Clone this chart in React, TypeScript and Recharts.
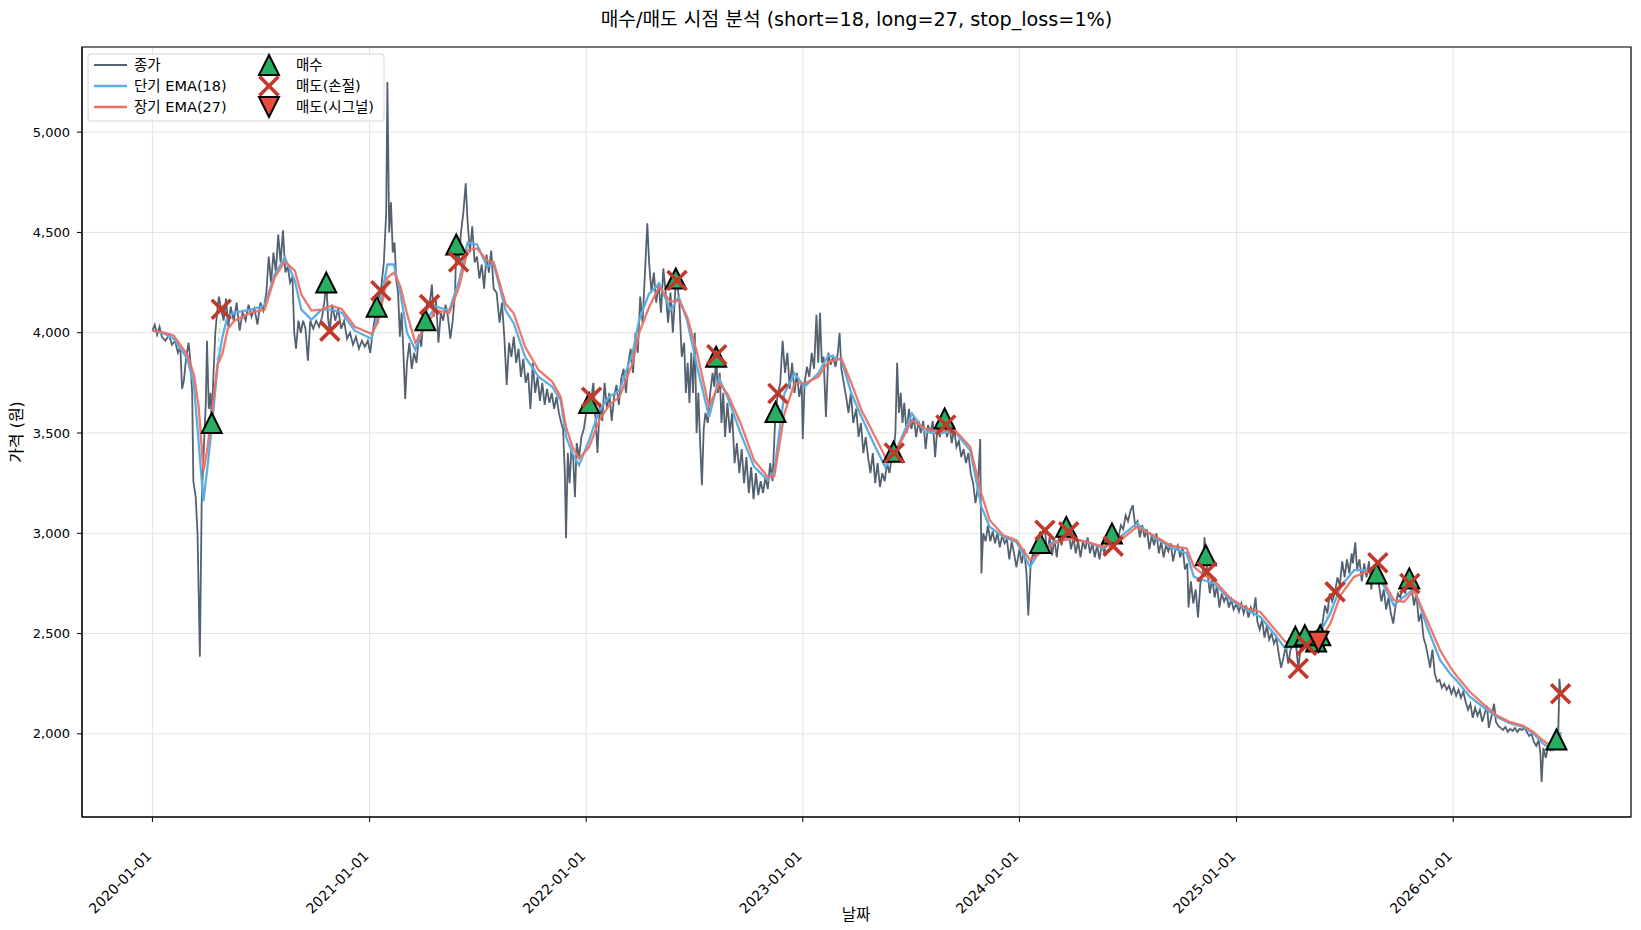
import React from 'react';
import {
  ComposedChart,
  Line,
  Scatter,
  XAxis,
  YAxis,
  CartesianGrid,
  ReferenceLine,
  ReferenceArea,
} from 'recharts';

// ---------------- data ----------------
const closeDates = [
  '2020-01-01','2020-01-05','2020-01-09','2020-01-13','2020-01-17','2020-01-23','2020-01-29','2020-02-03','2020-02-08','2020-02-13',
  '2020-02-17','2020-02-20','2020-02-23','2020-02-27','2020-03-02','2020-03-05','2020-03-08','2020-03-10','2020-03-14','2020-03-17',
  '2020-03-21','2020-03-24','2020-03-28','2020-03-31','2020-04-02','2020-04-05','2020-04-08','2020-04-10','2020-04-13','2020-04-16',
  '2020-04-19','2020-04-22','2020-04-26','2020-04-30','2020-05-04','2020-05-08','2020-05-12','2020-05-17','2020-05-22','2020-05-27',
  '2020-06-01','2020-06-06','2020-06-11','2020-06-16','2020-06-21','2020-06-26','2020-07-01','2020-07-06','2020-07-11','2020-07-15',
  '2020-07-19','2020-07-23','2020-07-27','2020-07-31','2020-08-04','2020-08-08','2020-08-12','2020-08-16','2020-08-20','2020-08-24',
  '2020-08-27','2020-08-30','2020-09-03','2020-09-07','2020-09-11','2020-09-15','2020-09-19','2020-09-23','2020-09-28','2020-10-03',
  '2020-10-08','2020-10-13','2020-10-17','2020-10-20','2020-10-23','2020-10-26','2020-10-30','2020-11-04','2020-11-09','2020-11-14',
  '2020-11-19','2020-11-24','2020-11-29','2020-12-04','2020-12-09','2020-12-14','2020-12-19','2020-12-24','2020-12-29',
  '2021-01-02','2021-01-07','2021-01-13','2021-01-17','2021-01-20','2021-01-25','2021-01-29','2021-01-31','2021-02-03','2021-02-06',
  '2021-02-09','2021-02-12','2021-02-15','2021-02-18','2021-02-21','2021-02-24','2021-02-27','2021-03-02','2021-03-05','2021-03-09',
  '2021-03-13','2021-03-17','2021-03-21','2021-03-25','2021-03-29','2021-04-02','2021-04-05','2021-04-08','2021-04-12','2021-04-16',
  '2021-04-19','2021-04-23','2021-04-27','2021-05-01','2021-05-05','2021-05-09','2021-05-13','2021-05-17','2021-05-21','2021-05-25',
  '2021-05-27','2021-05-31','2021-06-04','2021-06-08','2021-06-12','2021-06-15','2021-06-19','2021-06-23','2021-06-27','2021-07-01',
  '2021-07-05','2021-07-09','2021-07-13','2021-07-17','2021-07-21','2021-07-25','2021-07-29','2021-08-03','2021-08-08','2021-08-12',
  '2021-08-16','2021-08-20','2021-08-24','2021-08-28','2021-09-01','2021-09-05','2021-09-09','2021-09-13','2021-09-17','2021-09-21',
  '2021-09-25','2021-09-29','2021-10-03','2021-10-07','2021-10-11','2021-10-15','2021-10-19','2021-10-23','2021-10-27','2021-10-31',
  '2021-11-04','2021-11-08','2021-11-12','2021-11-16','2021-11-20','2021-11-23','2021-11-26','2021-11-28','2021-12-01','2021-12-04',
  '2021-12-07','2021-12-10','2021-12-13','2021-12-16','2021-12-20','2021-12-24','2021-12-28',
  '2022-01-01','2022-01-04','2022-01-06','2022-01-10','2022-01-13','2022-01-17','2022-01-20','2022-01-24','2022-01-28','2022-02-01',
  '2022-02-05','2022-02-09','2022-02-13','2022-02-17','2022-02-21','2022-02-25','2022-03-01','2022-03-05','2022-03-09','2022-03-13',
  '2022-03-17','2022-03-21','2022-03-25','2022-03-29','2022-04-02','2022-04-06','2022-04-10','2022-04-14','2022-04-17','2022-04-21',
  '2022-04-25','2022-04-29','2022-05-03','2022-05-07','2022-05-11','2022-05-15','2022-05-19','2022-05-23','2022-05-27','2022-05-30',
  '2022-06-01','2022-06-03','2022-06-07','2022-06-11','2022-06-15','2022-06-18','2022-06-21','2022-06-24','2022-06-27','2022-06-30',
  '2022-07-03','2022-07-06','2022-07-09','2022-07-12','2022-07-15','2022-07-18','2022-07-21','2022-07-25','2022-07-29','2022-08-02',
  '2022-08-05','2022-08-08','2022-08-11','2022-08-14','2022-08-17','2022-08-20','2022-08-23','2022-08-27','2022-08-31','2022-09-04',
  '2022-09-08','2022-09-12','2022-09-16','2022-09-20','2022-09-24','2022-09-28','2022-10-02','2022-10-06','2022-10-10','2022-10-14',
  '2022-10-18','2022-10-22','2022-10-26','2022-10-30','2022-11-03','2022-11-07','2022-11-11','2022-11-16','2022-11-20','2022-11-24',
  '2022-11-28','2022-12-02','2022-12-06','2022-12-10','2022-12-14','2022-12-18','2022-12-22','2022-12-26','2022-12-30',
  '2023-01-01','2023-01-04','2023-01-08','2023-01-12','2023-01-16','2023-01-20','2023-01-24','2023-01-27','2023-01-30','2023-02-02',
  '2023-02-05','2023-02-09','2023-02-13','2023-02-17','2023-02-21','2023-02-25','2023-03-01','2023-03-04','2023-03-07','2023-03-11',
  '2023-03-15','2023-03-19','2023-03-23','2023-03-27','2023-04-01','2023-04-05','2023-04-09','2023-04-13','2023-04-17','2023-04-21',
  '2023-04-25','2023-04-29','2023-05-03','2023-05-07','2023-05-11','2023-05-15','2023-05-19','2023-05-23','2023-05-27','2023-05-31',
  '2023-06-03','2023-06-06','2023-06-09','2023-06-12','2023-06-15','2023-06-18','2023-06-21','2023-06-25','2023-06-29','2023-07-03',
  '2023-07-07','2023-07-11','2023-07-15','2023-07-19','2023-07-23','2023-07-27','2023-07-31','2023-08-04','2023-08-08','2023-08-12',
  '2023-08-16','2023-08-20','2023-08-24','2023-08-28','2023-09-01','2023-09-05','2023-09-09','2023-09-13','2023-09-17','2023-09-21',
  '2023-09-25','2023-09-29','2023-10-03','2023-10-07','2023-10-11','2023-10-15','2023-10-19','2023-10-23','2023-10-27','2023-10-29',
  '2023-11-01','2023-11-05','2023-11-09','2023-11-13','2023-11-17','2023-11-21','2023-11-25','2023-11-29','2023-12-03','2023-12-07',
  '2023-12-11','2023-12-15','2023-12-19','2023-12-23','2023-12-27',
  '2024-01-01','2024-01-05','2024-01-09','2024-01-13','2024-01-16','2024-01-20','2024-01-24','2024-01-28','2024-02-01','2024-02-05',
  '2024-02-09','2024-02-13','2024-02-17','2024-02-21','2024-02-25','2024-02-29','2024-03-04','2024-03-08','2024-03-12','2024-03-16',
  '2024-03-20','2024-03-24','2024-03-28','2024-04-01','2024-04-05','2024-04-09','2024-04-13','2024-04-17','2024-04-21','2024-04-25',
  '2024-04-29','2024-05-03','2024-05-07','2024-05-11','2024-05-15','2024-05-19','2024-05-23','2024-05-27','2024-05-31','2024-06-05',
  '2024-06-08','2024-06-12','2024-06-16','2024-06-20','2024-06-24','2024-06-28','2024-07-02','2024-07-06','2024-07-10','2024-07-14',
  '2024-07-18','2024-07-22','2024-07-26','2024-07-30','2024-08-03','2024-08-07','2024-08-11','2024-08-15','2024-08-19','2024-08-23',
  '2024-08-27','2024-08-31','2024-09-04','2024-09-08','2024-09-12','2024-09-16','2024-09-20','2024-09-24','2024-09-28','2024-10-02',
  '2024-10-06','2024-10-10','2024-10-12','2024-10-16','2024-10-20','2024-10-24','2024-10-28','2024-11-01','2024-11-05','2024-11-08',
  '2024-11-10','2024-11-13','2024-11-17','2024-11-21','2024-11-25','2024-11-29','2024-12-03','2024-12-07','2024-12-11','2024-12-15',
  '2024-12-19','2024-12-23','2024-12-27',
  '2025-01-01','2025-01-05','2025-01-09','2025-01-13','2025-01-17','2025-01-21','2025-01-25','2025-01-29','2025-02-02','2025-02-05',
  '2025-02-09','2025-02-13','2025-02-17','2025-02-21','2025-02-25','2025-03-01','2025-03-05','2025-03-09','2025-03-13','2025-03-17',
  '2025-03-21','2025-03-25','2025-03-29','2025-04-02','2025-04-06','2025-04-10','2025-04-15','2025-04-19','2025-04-26','2025-04-29',
  '2025-05-03','2025-05-07','2025-05-11','2025-05-15','2025-05-19','2025-05-22','2025-05-26','2025-05-30','2025-06-03','2025-06-07',
  '2025-06-11','2025-06-16','2025-06-20','2025-06-24','2025-06-28','2025-07-02','2025-07-06','2025-07-10','2025-07-14','2025-07-16',
  '2025-07-20','2025-07-23','2025-07-27','2025-07-31','2025-08-04','2025-08-08','2025-08-12','2025-08-16','2025-08-20','2025-08-25',
  '2025-08-29','2025-09-02','2025-09-06','2025-09-10','2025-09-14','2025-09-18','2025-09-22','2025-09-26','2025-09-30','2025-10-04',
  '2025-10-08','2025-10-12','2025-10-16','2025-10-19','2025-10-23','2025-10-27','2025-10-31','2025-11-04','2025-11-08','2025-11-12',
  '2025-11-16','2025-11-20','2025-11-23','2025-11-27','2025-12-01','2025-12-05','2025-12-09','2025-12-13','2025-12-17','2025-12-21',
  '2025-12-25','2025-12-29',
  '2026-01-02','2026-01-06','2026-01-10','2026-01-14','2026-01-18','2026-01-22','2026-01-26','2026-01-30','2026-02-03','2026-02-07',
  '2026-02-11','2026-02-15','2026-02-19','2026-02-23','2026-02-27','2026-03-02','2026-03-06','2026-03-11','2026-03-14','2026-03-18',
  '2026-03-22','2026-03-26','2026-03-30','2026-04-03','2026-04-07','2026-04-11','2026-04-15','2026-04-19','2026-04-23','2026-04-27',
  '2026-05-01','2026-05-05','2026-05-09','2026-05-13','2026-05-17','2026-05-21','2026-05-25','2026-05-28','2026-05-30','2026-06-02',
  '2026-06-06','2026-06-10','2026-06-14','2026-06-18','2026-06-21','2026-06-24','2026-06-27','2026-06-29','2026-07-01',
];

const closePrices = [
  4010,4040,3990,4030,3980,3960,3990,3940,3960,3900,
  3930,3720,3760,3880,3950,3860,3700,3260,3180,3000,
  2385,3150,3450,3650,3960,3620,3700,3550,3800,4000,
  4100,4180,4117,4060,4170,4030,4130,4060,4150,4010,
  4100,4060,4140,4080,4120,4040,4150,4110,4200,4380,
  4250,4400,4300,4490,4350,4510,4300,4330,4250,4280,
  4000,3920,4060,4000,4060,4020,3860,4060,4020,4060,
  4030,4080,4160,4250,4070,4008,4140,4060,4120,4020,
  4060,3970,4000,3940,3980,3920,3960,3930,3960,
  3900,4020,4130,4180,4209,4350,4600,5250,4500,4650,
  4400,4450,4260,4200,3980,4100,3900,3670,3850,3950,
  3820,3900,3850,3990,3930,4080,4062,4150,4140,4240,
  4080,4160,3950,4100,4060,4140,4080,3970,4060,4200,
  4440,4353,4500,4600,4745,4560,4400,4530,4350,4380,
  4270,4340,4220,4390,4300,4410,4220,4200,4050,4150,
  3980,3740,3950,3880,3980,3850,3920,3780,3870,3750,
  3800,3620,3850,3700,3780,3660,3750,3640,3720,3650,
  3700,3620,3680,3600,3550,3520,3300,2975,3400,3250,
  3420,3380,3180,3450,3380,3480,3520,
  3600,3700,3650,3678,3750,3560,3400,3650,3560,3750,
  3620,3700,3560,3680,3740,3640,3770,3820,3700,3850,
  3920,3800,4000,3900,4180,4050,4300,4546,4350,4200,
  4300,4150,4250,4100,4320,4200,4050,4200,4000,4150,
  4270,4260,4150,3880,3950,3700,3850,3650,3900,3700,
  4000,3500,3700,3450,3240,3520,3600,3550,3700,3800,
  3730,3880,3700,3800,3550,3700,3480,3650,3500,3600,
  3350,3450,3300,3420,3250,3380,3200,3330,3170,3300,
  3190,3260,3200,3280,3220,3350,3260,3605,3697,3750,
  3960,3800,3900,3720,3850,3700,3800,3680,3750,
  3470,3750,3830,3780,3900,3820,4090,3850,4100,3850,
  3880,3580,3900,3840,3880,3830,3900,4000,3820,3750,
  3680,3600,3700,3550,3620,3480,3550,3400,3480,3380,
  3300,3400,3250,3350,3230,3300,3260,3350,3300,3380,
  3406,3500,3850,3600,3700,3550,3650,3500,3620,3520,
  3580,3480,3560,3500,3560,3420,3540,3500,3560,3380,
  3540,3480,3560,3572,3480,3540,3450,3520,3430,3460,
  3380,3420,3350,3400,3300,3250,3150,3230,3470,2800,
  3000,2960,3040,2960,3010,2950,3000,2930,2990,2950,
  2970,2870,2960,2900,2830,
  2920,2850,2920,2800,2590,2850,2900,2880,2940,2952,
  3000,3015,2900,2980,2890,2970,2880,2990,2940,3010,
  3032,3007,2920,2980,2900,2960,2880,2960,2920,2980,
  2900,2950,2880,2940,2870,2950,2900,2960,2940,2999,
  2960,3000,2980,3040,3020,3090,3060,3110,3140,3040,
  3060,2980,3040,2980,3020,2920,2990,2940,3000,2900,
  2960,2880,2940,2910,2950,2860,2920,2940,2880,2930,
  2820,2850,2630,2760,2650,2720,2580,2750,2800,2980,
  2891,2800,2700,2780,2680,2740,2630,2700,2660,2690,
  2630,2670,2620,
  2650,2610,2650,2600,2640,2580,2630,2600,2680,2560,
  2520,2570,2480,2540,2470,2500,2450,2480,2400,2330,
  2380,2440,2350,2420,2440,2484,2326,2430,2492,2442,
  2480,2440,2470,2460,2459,2492,2560,2640,2600,2700,
  2660,2708,2780,2740,2860,2780,2870,2800,2900,2850,
  2955,2820,2870,2760,2850,2780,2860,2720,2840,2800,
  2740,2660,2720,2620,2680,2600,2550,2640,2700,2680,
  2740,2700,2760,2775,2730,2640,2700,2560,2600,2480,
  2440,2380,2330,2420,2300,2260,2270,2230,2250,2220,
  2240,2200,
  2230,2190,2220,2180,2210,2160,2120,2150,2080,2130,
  2090,2120,2060,2100,2140,2030,2080,2150,2060,2040,
  2030,2020,2035,2010,2025,2015,2030,2010,2025,2020,
  2030,2010,1990,2000,1960,1940,1970,1900,1760,1930,
  1880,1940,1920,1950,1940,1972,1990,2275,2200,
];

const emaDates = [
  '2020-01-01','2020-01-21','2020-02-06','2020-02-29','2020-03-11','2020-03-19','2020-03-27','2020-04-02','2020-04-11','2020-04-20',
  '2020-04-28','2020-05-07','2020-05-18','2020-06-15','2020-07-08','2020-07-25','2020-08-11','2020-08-28','2020-09-08','2020-09-25',
  '2020-10-12','2020-10-29','2020-11-15','2020-12-07','2021-01-04','2021-01-15','2021-01-31','2021-02-11','2021-02-22','2021-03-05',
  '2021-03-19','2021-04-05','2021-04-23','2021-05-15','2021-06-01','2021-06-15','2021-07-01','2021-07-18','2021-07-29','2021-08-18',
  '2021-09-01','2021-09-20','2021-10-13','2021-11-05','2021-11-19','2021-11-28','2021-12-09','2021-12-20','2022-01-06','2022-01-23',
  '2022-02-09','2022-02-26','2022-03-20','2022-03-31','2022-04-17','2022-05-04','2022-05-23','2022-06-06','2022-06-20','2022-07-07',
  '2022-07-27','2022-08-13','2022-08-27','2022-09-18','2022-10-11','2022-11-03','2022-11-14','2022-12-01','2022-12-18','2023-01-04',
  '2023-01-27','2023-02-13','2023-03-07','2023-03-24','2023-04-10','2023-05-03','2023-05-20','2023-06-05','2023-07-04','2023-07-26',
  '2023-08-20','2023-09-12','2023-10-10','2023-10-29','2023-11-12','2023-12-05','2023-12-27','2024-01-19','2024-02-05','2024-02-28',
  '2024-03-27','2024-04-24','2024-05-22','2024-06-19','2024-07-17','2024-08-14','2024-09-11','2024-10-09','2024-10-21','2024-11-07',
  '2024-11-24','2024-12-22','2025-01-19','2025-02-10','2025-03-05','2025-03-24','2025-04-10','2025-04-30','2025-05-22','2025-06-08',
  '2025-06-25','2025-07-18','2025-08-09','2025-09-01','2025-09-23','2025-10-10','2025-10-27','2025-11-18','2025-12-10','2025-12-27',
  '2026-01-06','2026-01-29','2026-02-20','2026-03-15','2026-04-06','2026-04-29','2026-05-16','2026-06-01','2026-06-18','2026-06-29',
  '2026-07-01',
];

const emaShort = [
  4010,3995,3970,3870,3740,3450,3160,3310,3555,3845,
  3980,4085,4100,4115,4135,4290,4375,4260,4115,4065,
  4115,4115,4100,4010,3970,4085,4340,4340,4195,4000,
  3915,4060,4130,4110,4260,4450,4440,4330,4345,4113,
  4046,3880,3780,3730,3663,3481,3398,3340,3464,3614,
  3680,3713,3897,4062,4195,4245,4112,4178,4062,3830,
  3580,3772,3680,3500,3331,3265,3310,3697,3797,3730,
  3797,3888,3863,3697,3580,3431,3331,3398,3597,3505,
  3497,3514,3414,3132,3032,2982,2957,2833,2916,2957,
  2974,2957,2924,2982,3049,2982,2932,2900,2783,2766,
  2750,2667,2617,2583,2500,2426,2442,2467,2508,2600,
  2733,2816,2816,2766,2642,2683,2725,2533,2367,2300,
  2268,2185,2135,2085,2053,2035,2002,1952,1918,1960,
  2010,
];

const emaLong = [
  4010,4000,3985,3890,3790,3630,3310,3410,3620,3840,
  3895,4020,4060,4100,4115,4275,4355,4310,4190,4110,
  4115,4135,4118,4030,3995,4050,4275,4300,4230,4095,
  3950,4030,4113,4097,4230,4410,4420,4360,4353,4146,
  4096,3930,3813,3755,3680,3530,3430,3373,3430,3564,
  3640,3680,3847,3997,4128,4228,4154,4163,4080,3897,
  3630,3747,3697,3550,3364,3281,3285,3597,3747,3747,
  3780,3855,3872,3747,3613,3480,3381,3398,3564,3522,
  3505,3522,3431,3198,3065,2990,2965,2866,2900,2949,
  2974,2957,2932,2965,3032,2990,2940,2924,2833,2791,
  2766,2675,2625,2608,2525,2459,2442,2434,2467,2550,
  2691,2783,2808,2783,2667,2658,2717,2567,2417,2333,
  2292,2210,2151,2093,2060,2040,2010,1968,1935,1950,
  1965,
];

const buyDates = [
  '2020-04-10','2020-10-20','2021-01-13','2021-04-05','2021-05-27','2022-01-06','2022-06-01','2022-08-08',
  '2022-11-16','2023-06-03','2023-08-28','2024-02-05','2024-03-20','2024-06-05','2024-11-10','2025-04-10',
  '2025-04-26','2025-05-15','2025-05-22','2025-08-25','2025-10-19','2026-06-24',
];
const buyPrices = [
  3550,4250,4130,4062,4440,3650,4270,3880,
  3605,3406,3572,2952,3032,2999,2891,2484,
  2492,2460,2492,2800,2775,1972,
];

const stopDates = [
  '2020-04-26','2020-10-26','2021-01-20','2021-04-12','2021-05-31','2022-01-10','2022-06-03','2022-08-09',
  '2022-11-20','2023-06-04','2023-08-30','2024-02-13','2024-03-24','2024-06-07','2024-11-12','2025-04-15',
  '2025-04-29','2025-06-16','2025-08-27','2025-10-20','2026-07-01',
];
const stopPrices = [
  4117,4008,4209,4140,4353,3678,4260,3890,
  3697,3400,3540,3015,3007,2936,2808,2326,
  2442,2708,2853,2750,2200,
];

const signalDates = ['2025-05-19'];
const signalPrices = [2459];

const yearTicks = ['2020-01-01','2021-01-01','2022-01-01','2023-01-01','2024-01-01','2025-01-01','2026-01-01'];
const priceTicks = [2000, 2500, 3000, 3500, 4000, 4500, 5000];

// ---------------- helpers ----------------
const FONT = '"DejaVu Sans", "Noto Sans CJK KR", sans-serif';
const toT = (s: string) => Date.UTC(+s.slice(0, 4), +s.slice(5, 7) - 1, +s.slice(8, 10));
const fmtDate = (t: number) => new Date(t).toISOString().slice(0, 10);

const pairs = (dates: string[], vals: number[]) => dates.map((d, i) => ({ x: toT(d), y: vals[i] }));

const closeData = pairs(closeDates, closePrices);
const shortData = pairs(emaDates, emaShort);
const longData = pairs(emaDates, emaLong);
const buyData = pairs(buyDates, buyPrices);
const stopData = pairs(stopDates, stopPrices);
const signalData = pairs(signalDates, signalPrices);

// buy -> exit pairs for the dashed trade connectors
const exits = [...stopData, ...signalData].sort((a, b) => a.x - b.x);
const trades = buyData.map((b, i) => ({ from: b, to: exits[i] })).filter((t) => t.to);

const allX = closeData.map((p) => p.x);
const xLo = Math.min(...allX);
const xHi = Math.max(...allX);
const xPad = (xHi - xLo) * 0.05;
const xDomain: [number, number] = [xLo - xPad, xHi + xPad];

const yLo = Math.min(...closePrices);
const yHi = Math.max(...closePrices);
const yPad = (yHi - yLo) * 0.05;
const yDomain: [number, number] = [yLo - yPad, yHi + yPad];

// ---------------- colours ----------------
const C_CLOSE = '#536170';
const C_SHORT = '#5DADE2';
const C_LONG = '#EC7063';
const C_BUY = '#27AE60';
const C_STOP = '#C0392B';
const C_SIGNAL = '#E74C3C';

// ---------------- marker shapes ----------------
const M = 10;
const UpTri = ({ cx, cy }: any) => (
  <path d={`M${cx},${cy - M} L${cx + M},${cy + M} L${cx - M},${cy + M} Z`} fill={C_BUY} stroke="#000" strokeWidth={2} />
);
const DownTri = ({ cx, cy }: any) => (
  <path d={`M${cx},${cy + M} L${cx + M},${cy - M} L${cx - M},${cy - M} Z`} fill={C_SIGNAL} stroke="#000" strokeWidth={2} />
);
const Cross = ({ cx, cy }: any) => (
  <g stroke={C_STOP} strokeWidth={3.6}>
    <line x1={cx - 9.5} y1={cy - 9.5} x2={cx + 9.5} y2={cy + 9.5} />
    <line x1={cx - 9.5} y1={cy + 9.5} x2={cx + 9.5} y2={cy - 9.5} />
  </g>
);

const XTick = ({ x, y, payload }: any) => {
  const ax = x;
  const ay = y + 33;
  return (
    <text
      x={ax}
      y={ay}
      transform={`rotate(-45 ${ax} ${ay})`}
      textAnchor="end"
      fontSize={14}
      fontFamily={FONT}
      fill="#000"
    >
      {fmtDate(payload.value)}
    </text>
  );
};

const Legend = () => {
  const rows = [12, 33, 54];
  const textProps = { fontSize: 14.5, fontFamily: FONT, fill: '#000', dominantBaseline: 'central' as const };
  return (
    <svg width={298} height={69} style={{ position: 'absolute', left: 79, top: 45 }}>
      <rect x={1} y={1} width={296} height={67} rx={3} fill="#fff" fillOpacity={0.85} stroke="#d6d6d6" />
      <line x1={7} x2={40} y1={rows[0]} y2={rows[0]} stroke={C_CLOSE} strokeWidth={2} />
      <line x1={7} x2={40} y1={rows[1]} y2={rows[1]} stroke={C_SHORT} strokeWidth={2.5} />
      <line x1={7} x2={40} y1={rows[2]} y2={rows[2]} stroke={C_LONG} strokeWidth={2.5} />
      <text x={47} y={rows[0]} {...textProps}>종가</text>
      <text x={47} y={rows[1]} {...textProps}>단기 EMA(18)</text>
      <text x={47} y={rows[2]} {...textProps}>장기 EMA(27)</text>
      <UpTri cx={182} cy={rows[0]} />
      <Cross cx={182} cy={rows[1]} />
      <DownTri cx={182} cy={rows[2]} />
      <text x={209} y={rows[0]} {...textProps}>매수</text>
      <text x={209} y={rows[1]} {...textProps}>매도(손절)</text>
      <text x={209} y={rows[2]} {...textProps}>매도(시그널)</text>
    </svg>
  );
};

export default function App() {
  const W = 1633;
  const H = 922;
  return (
    <div style={{ position: 'relative', width: W, height: H, fontFamily: FONT }}>
      <ComposedChart width={W} height={H} margin={{ top: 39, right: 10, bottom: 0, left: 0 }}>
        <CartesianGrid stroke="#e3e3e3" strokeWidth={1} />
        <XAxis
          dataKey="x"
          type="number"
          domain={xDomain}
          allowDataOverflow
          ticks={yearTicks.map(toT)}
          interval={0}
          tick={<XTick />}
          tickSize={5}
          height={113}
          stroke="#000"
        />
        <YAxis
          dataKey="y"
          type="number"
          domain={yDomain}
          allowDataOverflow
          ticks={priceTicks}
          interval={0}
          tickFormatter={(v: number) => v.toLocaleString('en-US')}
          tick={{ fontSize: 13, fontFamily: FONT, fill: '#000' }}
          tickSize={5}
          tickMargin={7}
          width={74}
          stroke="#000"
        />
        {trades.map((t, i) => (
          <ReferenceLine
            key={`trade-${i}`}
            segment={[t.from, t.to]}
            stroke={t.to.y >= t.from.y ? C_BUY : C_STOP}
            strokeOpacity={0.35}
            strokeDasharray="5 4"
            strokeWidth={1.5}
          />
        ))}
        <Line data={closeData} dataKey="y" stroke={C_CLOSE} strokeWidth={1.8} dot={false} isAnimationActive={false} />
        <Line data={shortData} dataKey="y" stroke={C_SHORT} strokeWidth={2.3} dot={false} isAnimationActive={false} />
        <Line data={longData} dataKey="y" stroke={C_LONG} strokeWidth={2.3} strokeOpacity={0.95} dot={false} isAnimationActive={false} />
        <Scatter data={buyData} dataKey="y" shape={<UpTri />} isAnimationActive={false} />
        <Scatter data={stopData} dataKey="y" shape={<Cross />} isAnimationActive={false} />
        <Scatter data={signalData} dataKey="y" shape={<DownTri />} isAnimationActive={false} />
        <ReferenceArea
          x1={xDomain[0]}
          x2={xDomain[1]}
          y1={yDomain[0]}
          y2={yDomain[1]}
          fill="none"
          stroke="#000"
          strokeWidth={1.2}
        />
      </ComposedChart>
      <div
        style={{
          position: 'absolute',
          left: 74,
          top: 0,
          width: 1549,
          textAlign: 'center',
          fontSize: 19.2,
          lineHeight: '24px',
          color: '#000',
        }}
      >
        매수/매도 시점 분석 (short=18, long=27, stop_loss=1%)
      </div>
      <div
        style={{
          position: 'absolute',
          left: 7,
          top: 424,
          fontSize: 16,
          transform: 'translate(-50%, -50%) rotate(-90deg)',
          whiteSpace: 'nowrap',
          color: '#000',
        }}
      >
        가격 (원)
      </div>
      <div
        style={{
          position: 'absolute',
          left: 848,
          top: 905,
          fontSize: 15.5,
          transform: 'translate(-50%, -50%)',
          color: '#000',
        }}
      >
        날짜
      </div>
      <Legend />
    </div>
  );
}
